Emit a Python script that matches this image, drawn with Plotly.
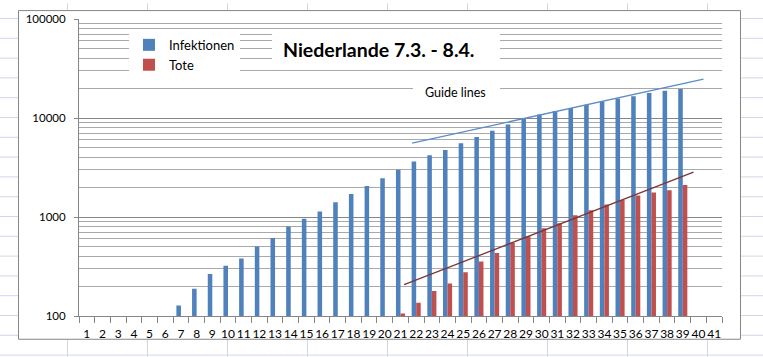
import plotly.graph_objects as go

# ---------------- data ----------------
days = list(range(1, 42))
day_labels = [str(d) for d in days]

infektionen = [None] * 6 + [
    128, 188, 265, 321, 382, 503, 614, 804, 959, 1135, 1413, 1705, 2051, 2460, 2994,
    3631, 4204, 4749, 5560, 6412, 7431, 8603, 9762, 10866, 11750,
    12595, 13614, 14697, 15723, 16627, 17851, 18803, 19580,
] + [None, None]

tote = [None] * 20 + [
    106, 136, 179, 213, 276, 356, 434, 546, 639, 771,
    864, 1039, 1173, 1339, 1487, 1651, 1766, 1867, 2101,
] + [None, None]

y_tick_vals = [100, 1000, 10000, 100000]
y_tick_text = ["100", "1000", "10000", "100000"]

# hand-drawn guide lines (start / end, in chart units)
guide_inf_x = [21.74, 40.32]
guide_inf_y = [5585, 24720]
guide_tote_x = [21.23, 39.68]
guide_tote_y = [207, 2838]

# ---------------- layout helpers ----------------
W, H = 763, 357
L, R, T, B = 79, 722, 16, 316


def px(x):
    return (x - L) / (R - L)


def py(y):
    return (B - y) / (B - T)


FONT = "Lato, 'Liberation Sans', Arial, sans-serif"
AXIS_GRAY = "#868686"

fig = go.Figure()
fig.add_bar(x=days, y=infektionen, name="Infektionen",
            marker=dict(color="#4f81bd", line=dict(width=0)))
fig.add_bar(x=days, y=tote, name="Tote",
            marker=dict(color="#c0504d", line=dict(width=0)))
fig.add_scatter(x=guide_inf_x, y=guide_inf_y, mode="lines",
                line=dict(color="#5b8bc9", width=1.3),
                showlegend=False, hoverinfo="skip")
fig.add_scatter(x=guide_tote_x, y=guide_tote_y, mode="lines",
                line=dict(color="#7d3535", width=1.3),
                showlegend=False, hoverinfo="skip")

shapes = []
cell_color = "#d0d7e5"
for gx in range(67, W + 1, 80):
    shapes.append(dict(type="line", xref="paper", yref="paper",
                       x0=px(gx + 0.5), x1=px(gx + 0.5), y0=py(0), y1=py(H),
                       line=dict(color=cell_color, width=1), layer="below"))
for gy in range(15, H + 1, 20):
    shapes.append(dict(type="line", xref="paper", yref="paper",
                       x0=px(0), x1=px(W), y0=py(gy + 0.5), y1=py(gy + 0.5),
                       line=dict(color=cell_color, width=1), layer="below"))
shapes.append(dict(type="rect", xref="paper", yref="paper",
                   x0=px(18.5), x1=px(740.5), y0=py(339.5), y1=py(7.5),
                   fillcolor="white", line=dict(color=AXIS_GRAY, width=1),
                   layer="below"))
# white boxes behind the title and the "Guide lines" label
shapes.append(dict(type="rect", xref="paper", yref="paper",
                   x0=px(272), x1=px(500), y0=py(62), y1=py(27),
                   fillcolor="white", line=dict(width=0), layer="above"))
shapes.append(dict(type="rect", xref="paper", yref="paper",
                   x0=px(413), x1=px(500), y0=py(103), y1=py(77),
                   fillcolor="white", line=dict(width=0), layer="above"))

annotations = [
    dict(xref="paper", yref="paper", x=px(378), y=py(46.5),
         xanchor="center", yanchor="middle",
         text="<b>Niederlande 7.3. - 8.4.</b>", showarrow=False,
         font=dict(family=FONT, size=19.5, color="black")),
    dict(xref="paper", yref="paper", x=px(455.5), y=py(90),
         xanchor="center", yanchor="middle",
         text="Guide lines", showarrow=False,
         font=dict(family=FONT, size=12.5, color="black")),
]

fig.update_layout(
    width=W, height=H, autosize=False,
    margin=dict(l=L, r=W - R, t=T, b=H - B, pad=0),
    paper_bgcolor="white", plot_bgcolor="rgba(0,0,0,0)",
    barmode="group", bargap=0.42, bargroupgap=0,
    font=dict(family=FONT, size=12, color="black"),
    shapes=shapes, annotations=annotations,
    showlegend=True,
    legend=dict(x=px(129), y=py(27), xanchor="left", yanchor="top",
                bgcolor="white", borderwidth=0,
                font=dict(family=FONT, size=13, color="black"),
                tracegroupgap=0),
    xaxis=dict(type="linear", range=[0.5, 41.5],
               tickmode="array", tickvals=days, ticktext=day_labels,
               ticks="", showgrid=False, zeroline=False, tickangle=0,
               showline=True, linecolor=AXIS_GRAY, linewidth=1,
               ticklabelstandoff=7,
               tickfont=dict(family=FONT, size=12, color="black"),
               minor=dict(tick0=0.5, dtick=1, ticks="outside", ticklen=6,
                          tickcolor=AXIS_GRAY, showgrid=False)),
    yaxis=dict(type="log", range=[2, 5],
               tickmode="array", tickvals=y_tick_vals, ticktext=y_tick_text,
               ticks="outside", ticklen=4, tickcolor=AXIS_GRAY,
               showgrid=True, gridcolor=AXIS_GRAY, gridwidth=1,
               zeroline=False, showline=True, linecolor=AXIS_GRAY, linewidth=1,
               ticklabelstandoff=6,
               tickfont=dict(family=FONT, size=11.5, color="black"),
               minor=dict(dtick="D1", showgrid=True, gridcolor="#a9a9a9",
                          gridwidth=1, ticks="")),
)

fig.write_html("out.html",
               config={"displayModeBar": False},
               post_script="document.body.style.margin='0';"
                           "document.body.style.overflow='hidden';")
